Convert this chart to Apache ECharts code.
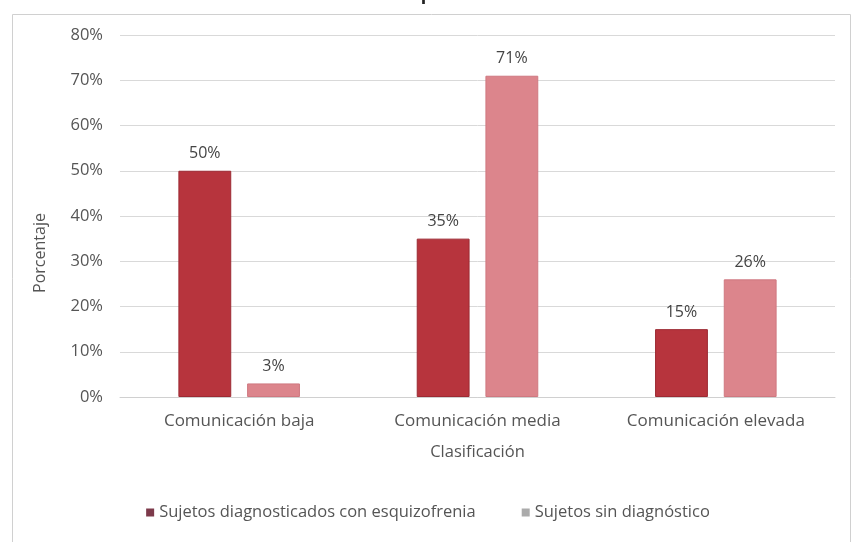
<!DOCTYPE html>
<html><head><meta charset="utf-8">
<script src="https://cdn.jsdelivr.net/npm/echarts@6/dist/echarts.min.js"></script>
<style>html,body{margin:0;padding:0;background:#fff}#c{width:856px;height:542px}</style>
</head><body><div id="c"></div>
<script>
const titleText = 'de comparación';
const categories = ['Comunicación baja', 'Comunicación media', 'Comunicación elevada'];
const seriesNames = ['Sujetos diagnosticados con esquizofrenia', 'Sujetos sin diagnóstico'];
const diagnosticados = [50, 35, 15];
const sinDiagnostico = [3, 71, 26];
const yTicks = [0, 10, 20, 30, 40, 50, 60, 70, 80];
const yAxisTitle = 'Porcentaje';
const xAxisTitle = 'Clasificación';

const font = '"Open Sans", "Noto Sans", sans-serif';
const chart = echarts.init(document.getElementById('c'));
chart.setOption({
  animation: false,
  backgroundColor: '#fff',
  textStyle: { fontFamily: font },
  title: {
    text: titleText, left: 'center', top: -19,
    textStyle: { fontFamily: font, fontSize: 18, fontWeight: 'bold', color: '#222' }
  },
  graphic: [{
    type: 'rect', left: 10, top: 12, silent: true,
    shape: { width: 838, height: 540 },
    style: { fill: 'none', stroke: '#d0d0d0', lineWidth: 1 }
  }, {
    type: 'text', x: 40, y: 253, rotation: Math.PI / 2, silent: true,
    style: { text: yAxisTitle, fontFamily: font, fontSize: 16, fill: '#555', align: 'center', verticalAlign: 'middle' }
  }],
  legend: {
    bottom: 16, left: 'center', itemWidth: 8, itemHeight: 8, itemGap: 46,
    icon: 'rect',
    textStyle: { fontFamily: font, fontSize: 16.5, color: '#555' },
    data: [
      { name: seriesNames[0], itemStyle: { color: '#7d3a4b', borderWidth: 0 } },
      { name: seriesNames[1], itemStyle: { color: '#ababab', borderWidth: 0 } }
    ]
  },
  grid: { left: 120, right: 21, top: 35, bottom: 145 },
  xAxis: {
    type: 'category', data: categories,
    name: xAxisTitle, nameLocation: 'middle', nameGap: 47,
    nameTextStyle: { fontFamily: font, fontSize: 16.5, color: '#555' },
    axisLine: { lineStyle: { color: '#d0d0d0' } },
    axisTick: { show: false },
    axisLabel: { fontFamily: font, fontSize: 17, color: '#555', margin: 16 }
  },
  yAxis: {
    type: 'value', min: 0, max: 80, interval: 10,
    axisLine: { show: false }, axisTick: { show: false },
    splitLine: { lineStyle: { color: '#d9d9d9' } },
    axisLabel: { fontFamily: font, fontSize: 16.5, color: '#555', margin: 17,
      formatter: v => yTicks.includes(v) ? v + '%' : '' }
  },
  series: [
    {
      name: seriesNames[0], type: 'bar', data: diagnosticados,
      barGap: '30%', barCategoryGap: '49%',
      itemStyle: { color: '#b7343d', borderColor: '#9c2a33', borderWidth: 1 },
      label: { show: true, position: 'top', distance: 9, formatter: '{c}%', fontFamily: font, fontSize: 16, color: '#444' }
    },
    {
      name: seriesNames[1], type: 'bar', data: sinDiagnostico,
      itemStyle: { color: '#dc858c', borderColor: '#cf7880', borderWidth: 1 },
      label: { show: true, position: 'top', distance: 9, formatter: '{c}%', fontFamily: font, fontSize: 16, color: '#444' }
    }
  ]
});
</script></body></html>
